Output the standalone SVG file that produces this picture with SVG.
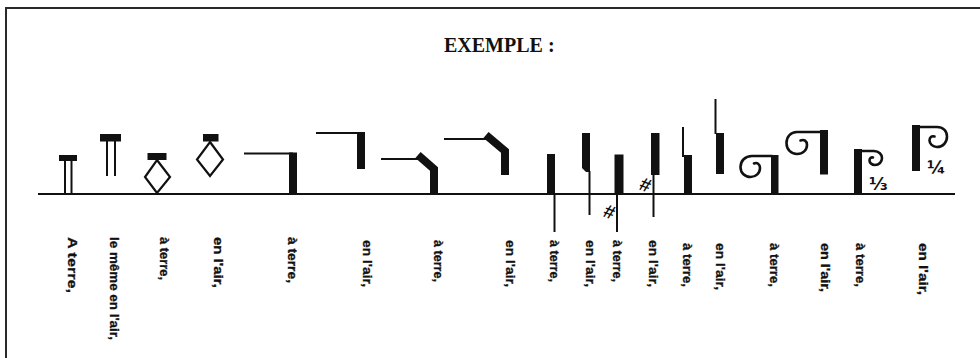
<svg xmlns="http://www.w3.org/2000/svg" width="980" height="358" viewBox="0 0 980 358">
<style>
.bg{fill:#ffffff}
.frame{stroke:#2a2a2a;stroke-width:2;fill:none}
.ink{fill:#111}
.thin{stroke:#111;stroke-width:2;fill:none}
.thick{stroke:#111;stroke-width:8;fill:none;stroke-linejoin:miter}
.curl{stroke:#111;stroke-width:2.6;fill:none;stroke-linecap:round}
.outline{stroke:#111;stroke-width:2.2;fill:none}
.lbl{font-family:"Liberation Sans",Arial,sans-serif;font-weight:bold;font-size:13px;fill:#111;stroke:#111;stroke-width:0.3}
.title{font-family:"Liberation Serif","Times New Roman",serif;font-weight:bold;font-size:20px;fill:#111}
.frac{font-family:"DejaVu Sans",sans-serif;font-weight:bold;font-size:18px;fill:#111}
.sharp{font-family:"Liberation Sans",Arial,sans-serif;font-weight:bold;font-style:italic;font-size:19px;fill:#111}
</style>
<rect class="bg" x="0" y="0" width="980" height="358"/>
<path class="frame" d="M6 358 L6 8 L980 8"/>
<text class="title" x="444" y="52">EXEMPLE :</text>

<g id="connectors">
  <line class="thin" x1="38" y1="194" x2="955" y2="194"/>
</g>

<g id="sign1">
  <rect class="ink" x="59" y="155" width="18" height="6"/>
  <line class="thin" x1="65" y1="160" x2="65" y2="194"/>
  <line class="thin" x1="71.5" y1="160" x2="71.5" y2="194"/>
  <text class="lbl" transform="translate(68,237) rotate(90)" textLength="56" lengthAdjust="spacingAndGlyphs">A terre,</text>
</g>
<g id="sign2">
  <rect class="ink" x="100" y="134" width="21" height="7.5"/>
  <line class="thin" x1="107" y1="141" x2="107" y2="176"/>
  <line class="thin" x1="115" y1="141" x2="115" y2="176"/>
  <text class="lbl" transform="translate(109.5,237) rotate(90)" textLength="103" lengthAdjust="spacingAndGlyphs">le même en l'air,</text>
</g>
<g id="sign3">
  <rect class="ink" x="147.5" y="153" width="19" height="7"/>
  <polygon class="outline" points="157,160 170,177 157,193 145,177"/>
  <text class="lbl" transform="translate(159.5,237) rotate(90)" textLength="43" lengthAdjust="spacingAndGlyphs">à terre,</text>
</g>
<g id="sign4">
  <rect class="ink" x="203" y="134" width="15.5" height="7.5"/>
  <polygon class="outline" points="210,142 223,159.5 210,176 197,159.5"/>
  <text class="lbl" transform="translate(213.5,237) rotate(90)" textLength="51" lengthAdjust="spacingAndGlyphs">en l'air,</text>
</g>
<g id="sign5">
  <line class="thin" x1="244" y1="153.5" x2="293" y2="153.5"/>
  <rect class="ink" x="289" y="152.5" width="8" height="41.5"/>
  <text class="lbl" transform="translate(287.5,237) rotate(90)" textLength="46" lengthAdjust="spacingAndGlyphs">à terre,</text>
</g>
<g id="sign6">
  <line class="thin" x1="316" y1="133" x2="361" y2="133"/>
  <rect class="ink" x="357" y="132" width="8" height="37"/>
  <text class="lbl" transform="translate(362.5,240) rotate(90)" textLength="47" lengthAdjust="spacingAndGlyphs">en l'air,</text>
</g>
<g id="sign7">
  <line class="thin" x1="381" y1="159" x2="419" y2="159"/>
  <path class="thick" d="M418 155 L434 169 L434 194"/>
  <text class="lbl" transform="translate(434,240) rotate(90)" textLength="42" lengthAdjust="spacingAndGlyphs">à terre,</text>
</g>
<g id="sign8">
  <line class="thin" x1="444" y1="139" x2="486" y2="139"/>
  <path class="thick" d="M486 135 L505 151 L505 175"/>
  <text class="lbl" transform="translate(505.5,240) rotate(90)" textLength="47" lengthAdjust="spacingAndGlyphs">en l'air,</text>
</g>
<g id="sign9">
  <rect class="ink" x="547" y="154" width="8" height="40"/>
  <line class="thin" x1="554.5" y1="194" x2="554.5" y2="232"/>
  <text class="lbl" transform="translate(549.5,240) rotate(90)" textLength="42" lengthAdjust="spacingAndGlyphs">à terre,</text>
</g>
<g id="sign10">
  <polygon class="ink" points="582,133 590,133 590,172 586,172 582,168"/>
  <line class="thin" x1="589.5" y1="171" x2="589.5" y2="215"/>
  <text class="lbl" transform="translate(585.5,240) rotate(90)" textLength="47" lengthAdjust="spacingAndGlyphs">en l'air,</text>
</g>
<g id="sign11">
  <rect class="ink" x="614.5" y="154.5" width="9" height="39.5"/>
  <line class="thin" x1="617" y1="194" x2="617" y2="232"/>
  <text class="sharp" transform="translate(602,216) rotate(20)">#</text>
  <text class="lbl" transform="translate(613,240) rotate(90)" textLength="42" lengthAdjust="spacingAndGlyphs">à terre,</text>
</g>
<g id="sign12">
  <rect class="ink" x="651" y="133" width="8.5" height="42"/>
  <line class="thin" x1="653.5" y1="175" x2="653.5" y2="217"/>
  <text class="sharp" transform="translate(638,189) rotate(20)">#</text>
  <text class="lbl" transform="translate(649,240) rotate(90)" textLength="47" lengthAdjust="spacingAndGlyphs">en l'air,</text>
</g>
<g id="sign13">
  <line class="thin" x1="683" y1="127" x2="683" y2="157"/>
  <rect class="ink" x="684" y="155" width="8" height="39"/>
  <text class="lbl" transform="translate(682.5,243) rotate(90)" textLength="44" lengthAdjust="spacingAndGlyphs">à terre,</text>
</g>
<g id="sign14">
  <line class="thin" x1="715.5" y1="99" x2="715.5" y2="134"/>
  <rect class="ink" x="716" y="133" width="8" height="41"/>
  <text class="lbl" transform="translate(715.5,243) rotate(90)" textLength="47" lengthAdjust="spacingAndGlyphs">en l'air,</text>
</g>
<g id="sign15">
  <path class="curl" d="M772 156 L752 156 C745 156 740.5 161 740.5 167 C740.5 173 745 177 750.5 177 C756 177 760 173 760 168 C760 164 757 162 754 163.5"/>
  <rect class="ink" x="771" y="155" width="7.5" height="39"/>
  <text class="lbl" transform="translate(769.5,243) rotate(90)" textLength="44" lengthAdjust="spacingAndGlyphs">à terre,</text>
</g>
<g id="sign16">
  <path class="curl" d="M821 132 L797 132 C790.5 132 786.5 137 786.5 143 C786.5 149.5 791 154 797 154 C803 154 807 150 807 145 C807 141 804 139 800.5 140.5"/>
  <rect class="ink" x="820" y="130" width="8" height="44.5"/>
  <text class="lbl" transform="translate(820.5,243) rotate(90)" textLength="49" lengthAdjust="spacingAndGlyphs">en l'air,</text>
</g>
<g id="sign17">
  <rect class="ink" x="854" y="149" width="8" height="45"/>
  <path class="curl" d="M861 151 L874 151 C879 151 882 154.5 882 158 C882 162 879 165 875 165 C871.5 165 869.5 162.5 869.5 160.5 C869.5 158.5 871 157 873 157.5"/>
  <text class="frac" x="869" y="190">⅓</text>
  <text class="lbl" transform="translate(855.5,243) rotate(90)" textLength="44" lengthAdjust="spacingAndGlyphs">à terre,</text>
</g>
<g id="sign18">
  <rect class="ink" x="912" y="125" width="8" height="46"/>
  <path class="curl" d="M919 127 L937 127 C943 127 947 131 947 136.5 C947 142.5 943 147 937 147 C932.5 147 929.5 143.5 929.5 140.5 C929.5 137.5 931.5 135.5 934.5 136.5"/>
  <text class="frac" x="927" y="174">¼</text>
  <text class="lbl" transform="translate(919,243) rotate(90)" textLength="52" lengthAdjust="spacingAndGlyphs">en l'air,</text>
</g>
</svg>
